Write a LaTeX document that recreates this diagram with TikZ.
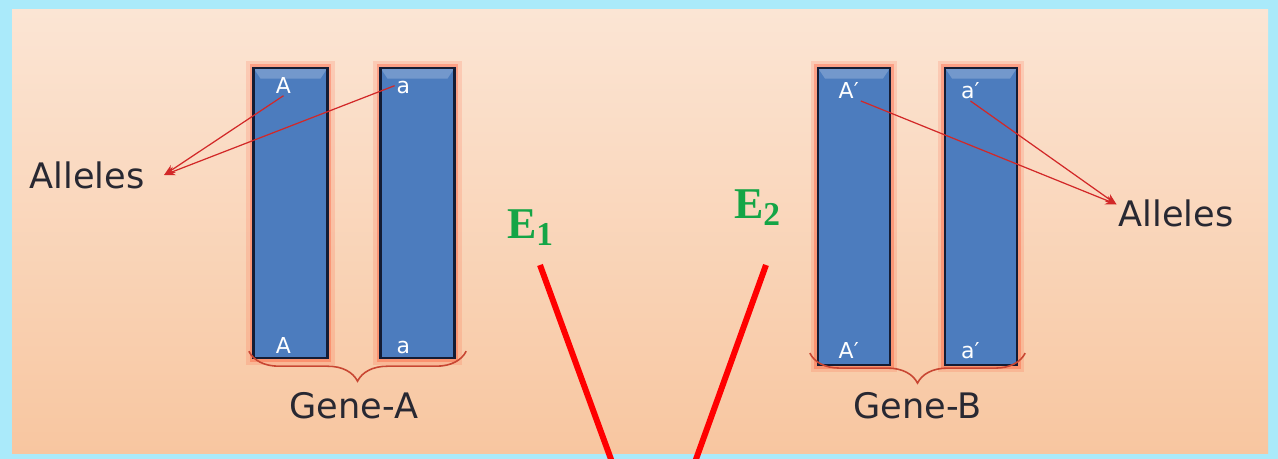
\documentclass[tikz,border=0pt]{standalone}
\usepackage{fontspec}
\newfontfamily\sansfont{DejaVu Sans}
\newfontfamily\seriffont{Liberation Serif}
\usetikzlibrary{arrows.meta, positioning, decorations.pathreplacing, calc}

\definecolor{framecyan}{RGB}{170,234,250}
\definecolor{peachtop}{RGB}{251,229,212}
\definecolor{peachbot}{RGB}{248,198,160}
\definecolor{chromblue}{RGB}{76,124,190}
\definecolor{chromedge}{RGB}{20,28,52}
\definecolor{pointer}{RGB}{210,40,40}
\definecolor{bracered}{RGB}{200,70,50}
\definecolor{envgreen}{RGB}{20,165,70}
\definecolor{inkdark}{RGB}{40,40,50}

\begin{document}
\begin{tikzpicture}[
    x=0.02cm, y=-0.02cm,
    chrom/.style={rectangle, draw=chromedge, line width=1.3pt, fill=chromblue, minimum width=1.48cm, inner sep=0pt,
        preaction={draw=red!70!orange, line width=8pt, opacity=.12},
        preaction={draw=red!70!orange, line width=4.5pt, opacity=.25},
        path picture={\fill[white, opacity=.22] (path picture bounding box.north west) -- (path picture bounding box.north east)
            -- ([shift={(-4pt,-6pt)}]path picture bounding box.north east) -- ([shift={(4pt,-6pt)}]path picture bounding box.north west) -- cycle;}},
    allele/.style={text=white, font=\sansfont\fontsize{12.5}{12.5}\selectfont, inner sep=1pt, text height=9pt, text depth=0pt},
    tag/.style={text=inkdark, font=\sansfont\fontsize{20}{20}\selectfont, inner sep=1pt},
    ptr/.style={draw=pointer, line width=0.7pt, -{Stealth[length=2.2mm, width=1.8mm]}},
    genebrace/.style={draw=bracered, line width=0.9pt, decorate, decoration={brace, mirror, amplitude=0.6cm}},
    env/.style={text=envgreen, font=\seriffont\bfseries\fontsize{25}{25}\selectfont},
    effect/.style={draw=red, line width=3.4pt}
]
    \useasboundingbox (0,0) rectangle (1278,459);
    % frame and panel
    \fill[framecyan] (0,0) rectangle (1278,459);
    \shade[top color=peachtop, bottom color=peachbot] (12,10) rectangle (1268,453);

    % chromosomes
    \node[chrom, minimum height=5.8cm] (barA) at (290.5,213) {};
    \node[chrom, minimum height=5.8cm] (bara) at (417.5,213) {};
    \node[chrom, minimum height=5.94cm, minimum width=1.44cm] (barAp) at (854,216.5) {};
    \node[chrom, minimum height=5.94cm, minimum width=1.44cm] (barap) at (981,216.5) {};

    % allele letters
    \node[allele, below=5pt of barA.north, xshift=-4pt] (lblA) {A};
    \node[allele, below=5pt of bara.north, xshift=-8pt] (lbla) {a};
    \node[allele, above=2pt of barA.south, xshift=-4pt] (lblA2) {A};
    \node[allele, above=2pt of bara.south, xshift=-8pt] (lbla2) {a};
    \node[allele, below=8pt of barAp.north, xshift=-3pt] (lblAp) {A′};
    \node[allele, below=8pt of barap.north, xshift=-6pt] (lblap) {a′};
    \node[allele, above=3pt of barAp.south, xshift=-3pt] (lblAp2) {A′};
    \node[allele, above=3pt of barap.south, xshift=-6pt] (lblap2) {a′};

    % allele tags
    \node[tag] (allelesL) at (87,175) {Alleles};
    \node[tag] (allelesR) at (1176,213) {Alleles};
    \draw[ptr] (lblA.south) -- ([xshift=10pt]allelesL.east);
    \draw[ptr] (lbla.west) -- ([xshift=10pt]allelesL.east);
    \draw[ptr] (lblAp.south east) -- ([yshift=-4pt]allelesR.north west);
    \draw[ptr] (lblap.south) -- ([yshift=-4pt]allelesR.north west);

    % genes
    \draw[genebrace] ([shift={(-2pt,4.5pt)}]barA.south west) -- ([shift={(6pt,4.5pt)}]bara.south east);
    \draw[genebrace] ([shift={(-4pt,7.4pt)}]barAp.south west) -- ([shift={(4pt,7.4pt)}]barap.south east);
    \node[tag] (geneA) at ($(barA.south)!.5!(bara.south)+(0,47)$) {Gene-A};
    \node[tag] (geneB) at ($(barAp.south)!.5!(barap.south)+(0,40)$) {Gene-B};

    % environments
    \node[env] (E1) at (530,228) {E\raisebox{-0.35ex}{\fontsize{19}{19}\selectfont 1}};
    \node[env] (E2) at (757,208) {E\raisebox{-0.35ex}{\fontsize{19}{19}\selectfont 2}};
    \coordinate (e1top) at (540,265);
    \coordinate (e1bot) at (612,462);
    \coordinate (e2top) at (766,265);
    \coordinate (e2bot) at (695,462);
    \draw[effect] (e1top) -- (e1bot);
    \draw[effect] (e2top) -- (e2bot);
\end{tikzpicture}
\end{document}
